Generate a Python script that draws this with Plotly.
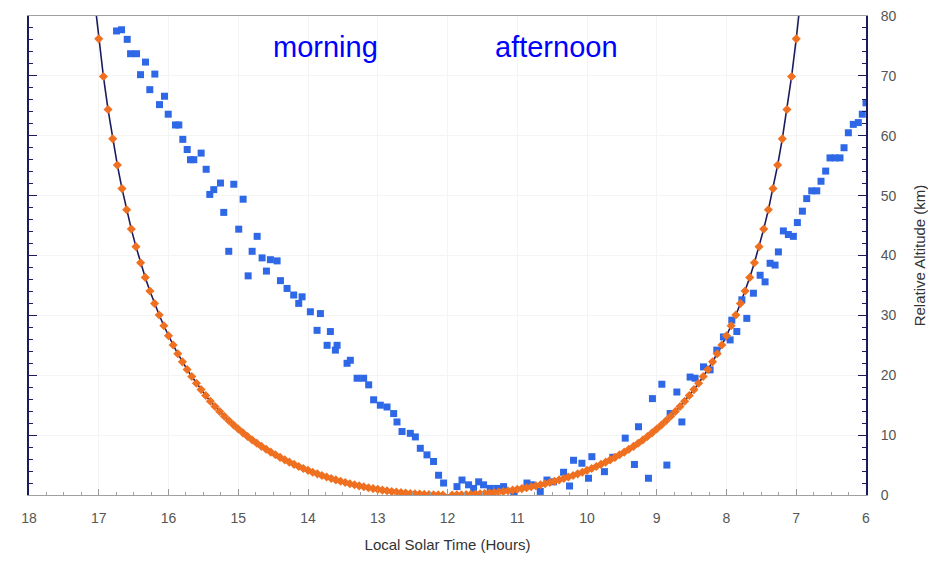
import plotly.graph_objects as go

# ---------------- data ----------------
# model curve samples every 4 minutes away from local noon (12 h)
curve_minutes_from_noon = list(range(4, 301, 4))
curve_alt_km = [
    0.00, 0.02, 0.04, 0.06, 0.10, 0.15, 0.20, 0.26, 0.33, 0.41,
    0.50, 0.59, 0.70, 0.81, 0.94, 1.07, 1.22, 1.37, 1.53, 1.71,
    1.89, 2.09, 2.30, 2.52, 2.75, 3.00, 3.25, 3.53, 3.81, 4.12,
    4.43, 4.77, 5.12, 5.49, 5.87, 6.28, 6.71, 7.16, 7.63, 8.12,
    8.65, 9.19, 9.77, 10.38, 11.02, 11.69, 12.40, 13.15, 13.95, 14.78,
    15.67, 16.61, 17.60, 18.66, 19.78, 20.97, 22.24, 23.60, 25.05, 26.60,
    28.27, 30.06, 31.99, 34.08, 36.34, 38.80, 41.48, 44.41, 47.63, 51.17,
    55.10, 59.48, 64.38, 69.90, 76.18,
]
# the drawn line continues beyond the last marker to the top of the frame
line_end_minutes = 304
line_end_alt_km = 83.35

# observed points (hour, relative altitude km)
obs_hour = [
    16.745, 16.673, 16.592, 16.544, 16.458, 16.401, 16.330, 16.268, 16.196, 16.129,
    16.057, 16.004, 15.900, 15.852, 15.795, 15.732, 15.685, 15.637, 15.532, 15.460,
    15.408, 15.351, 15.255, 15.208, 15.136, 15.064, 14.993, 14.930, 14.858, 14.801,
    14.729, 14.658, 14.596, 14.539, 14.443, 14.395, 14.300, 14.205, 14.133, 14.085,
    13.966, 13.870, 13.822, 13.726, 13.679, 13.607, 13.583, 13.440, 13.393, 13.296,
    13.202, 13.130, 13.059, 12.963, 12.867, 12.772, 12.724, 12.652, 12.533, 12.461,
    12.390, 12.294, 12.200, 12.128, 12.056, 11.864, 11.792, 11.698, 11.626, 11.553,
    11.483, 11.387, 11.290, 11.196, 11.050, 10.861, 10.790, 10.670, 10.574, 10.480,
    10.336, 10.250, 10.193, 10.073, 9.978, 9.930, 9.750, 9.630, 9.452, 9.320,
    9.262, 9.119, 9.062, 8.927, 8.855, 8.808, 8.712, 8.640, 8.522, 8.450,
    8.330, 8.235, 8.139, 8.044, 7.948, 7.924, 7.852, 7.780, 7.709, 7.614,
    7.518, 7.447, 7.375, 7.304, 7.256, 7.185, 7.113, 7.041, 6.984, 6.912,
    6.850, 6.778, 6.706, 6.645, 6.578, 6.516, 6.444, 6.373, 6.315, 6.253,
    6.182, 6.110, 6.053, 6.000,
]
obs_alt_km = [
    77.5, 77.7, 76.1, 73.7, 73.7, 70.2, 72.3, 67.7, 70.3, 65.2,
    66.6, 63.6, 61.8, 61.8, 59.4, 57.7, 56.0, 56.0, 57.1, 54.4,
    50.2, 51.0, 52.1, 47.2, 40.7, 51.9, 44.4, 49.4, 36.6, 40.7,
    43.2, 39.6, 37.4, 39.3, 39.1, 35.8, 34.5, 33.4, 32.0, 33.1,
    30.6, 27.5, 30.3, 25.0, 27.3, 24.2, 25.0, 22.0, 22.5, 19.5,
    19.5, 18.4, 15.9, 15.0, 14.7, 13.6, 12.2, 10.6, 10.3, 9.7,
    7.8, 6.7, 5.6, 3.3, 2.0, 1.4, 2.5, 1.7, 1.1, 2.2,
    1.7, 1.1, 1.1, 1.4, 0.3, 2.0, 1.7, 0.6, 2.5, 2.2,
    3.8, 1.5, 5.8, 5.3, 2.8, 6.4, 3.9, 6.3, 9.5, 5.1,
    11.4, 2.8, 16.1, 18.5, 5.0, 13.6, 17.2, 12.2, 19.7, 19.5,
    21.4, 20.9, 24.2, 26.4, 25.9, 29.2, 27.3, 32.6, 29.5, 33.7,
    36.7, 35.6, 38.7, 38.4, 40.6, 44.1, 43.5, 43.2, 45.5, 47.4,
    49.5, 50.8, 50.8, 52.4, 54.1, 56.3, 56.3, 56.3, 58.0, 60.5,
    61.9, 62.2, 63.6, 65.5,
]

x_tick_vals = list(range(6, 19))
y_tick_vals = list(range(0, 81, 10))

# ---------------- styling ----------------
NAVY = "#1B1B5E"
ORANGE = "#EF7020"
BLUE = "#2E68E6"
SANS = "Liberation Sans, Arial, sans-serif"

# build curve traces from the samples
pm_x = [12 + m / 60 for m in curve_minutes_from_noon]
am_x = [12 - m / 60 for m in curve_minutes_from_noon]
line_x = ([12 + line_end_minutes / 60] + pm_x[::-1] + [12] + am_x
          + [12 - line_end_minutes / 60])
line_y = [line_end_alt_km] + curve_alt_km[::-1] + [0] + curve_alt_km + [line_end_alt_km]

fig = go.Figure()
fig.add_trace(go.Scatter(x=line_x, y=line_y, mode="lines",
                         line=dict(color=NAVY, width=1.6), hoverinfo="skip",
                         showlegend=False))
fig.add_trace(go.Scatter(x=obs_hour, y=obs_alt_km, mode="markers",
                         marker=dict(symbol="square", size=7, color=BLUE),
                         showlegend=False))
fig.add_trace(go.Scatter(x=pm_x + am_x, y=curve_alt_km + curve_alt_km, mode="markers",
                         marker=dict(symbol="diamond", size=7, color=ORANGE),
                         showlegend=False))

fig.add_annotation(x=13.75, y=74.8, text="morning", showarrow=False,
                   font=dict(family=SANS, size=29, color="#0000FF"))
fig.add_annotation(x=10.434, y=74.8, text="afternoon", showarrow=False,
                   font=dict(family=SANS, size=29, color="#0000FF"))

fig.update_xaxes(
    range=[18, 6], tickvals=x_tick_vals, ticks="inside", ticklen=6, tickcolor="#999999",
    showline=True, linecolor="#A0A0A0", linewidth=1, mirror=True, automargin=False,
    minor=dict(dtick=0.25, tick0=6, ticks="inside", ticklen=3, tickcolor="#A0A0A0",
               showgrid=False),
    showgrid=True, gridcolor="#F4F4F4", zeroline=False,
    tickfont=dict(family=SANS, size=14, color="#555555"), ticklabelstandoff=10,
    title=dict(text="Local Solar Time (Hours)",
               font=dict(family=SANS, size=15, color="#333333"), standoff=24),
)
fig.update_yaxes(
    range=[0, 80], tickvals=y_tick_vals, side="right", ticks="inside", ticklen=8,
    tickcolor=NAVY, showline=True, linecolor=NAVY, linewidth=2, mirror="ticks",
    automargin=False, ticklabeloverflow="allow",
    minor=dict(dtick=2, tick0=0, ticks="inside", ticklen=4, tickcolor=NAVY, showgrid=False),
    showgrid=True, gridcolor="#F4F4F4", zeroline=False,
    tickfont=dict(family=SANS, size=14, color="#555555"), ticklabelstandoff=10,
    title=dict(text="Relative Altitude (km)",
               font=dict(family=SANS, size=15, color="#333333"), standoff=19),
)

# page renders with an 8px body margin, so the figure is sized to fit the window
fig.update_layout(
    width=920, height=545,
    margin=dict(l=21, r=62, t=8, b=58),
    paper_bgcolor="white", plot_bgcolor="white",
    showlegend=False,
)

fig.write_html("out.html")
